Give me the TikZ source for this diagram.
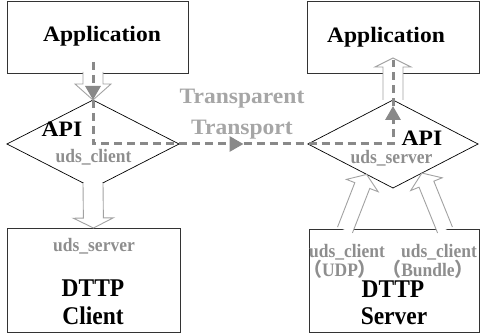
\documentclass[tikz,border=0pt]{standalone}
\usepackage{fontspec}
\setmainfont{Liberation Serif}
\newfontfamily\widefont{Liberation Serif}[FakeStretch=1.07]
\newfontfamily\narrowfont{Liberation Serif}[FakeStretch=0.92]
\newfontfamily\cjk{Noto Sans CJK SC}
\usepackage{tikz}
\usetikzlibrary{shapes.geometric,arrows.meta,calc}

\definecolor{flowgray}{HTML}{898989}
\definecolor{pipegray}{HTML}{A2A2A2}
\definecolor{notegray}{HTML}{8E8E8E}
\definecolor{overgray}{HTML}{A6A6A6}
\definecolor{edgegray}{HTML}{333333}

% hollow arrow: from, to, shaft half width, head half width, head length
\newcommand\hollow[5]{%
  \draw[pipe] let \p1=(#1), \p2=(#2), \n1={atan2(\y2-\y1,\x2-\x1)}, \n2={veclen(\x2-\x1,\y2-\y1)} in
    [shift={(\p1)}, rotate=\n1] (0,#3) -- ({\n2-#5},#3) -- ({\n2-#5},#4) -- (\n2,0)
    -- ({\n2-#5},-#4) -- ({\n2-#5},-#3) -- (0,-#3);
}
\newcommand\fwparen[1]{\smash{\cjk #1}}

\tikzset{
  box/.style={draw=edgegray, line width=0.9pt, outer sep=0pt},
  api/.style={diamond, draw, line width=0.7pt, outer sep=0pt, inner sep=0pt},
  pipe/.style={draw=pipegray, fill=white, line width=0.9pt, line join=miter},
  flow/.style={draw=flowgray, line width=3pt, dash pattern=on 8pt off 5pt},
  flowtip/.style={-{Triangle[length=14pt,width=15pt]}},
  apptext/.style={font=\widefont\fontsize{22}{25}\selectfont\bfseries, anchor=base, inner sep=0pt},
  boxtext/.style={font=\narrowfont\fontsize{25.5}{29}\selectfont\bfseries, anchor=base, inner sep=0pt},
  notetext/.style={font=\narrowfont\fontsize{19}{22}\selectfont\bfseries, text=notegray, anchor=base, inner sep=0pt},
  overtext/.style={font=\widefont\fontsize{22}{26}\selectfont\bfseries, text=overgray, anchor=base, inner sep=0pt}
}

\begin{document}
\begin{tikzpicture}[x=1pt,y=-1pt]
\useasboundingbox (0,0) rectangle (480,334);

\node[box, minimum width=181pt, minimum height=72pt] (appL) at (97.5,37) {};
\node[box, minimum width=172pt, minimum height=72pt] (appR) at (393,37) {};
\node[box, minimum width=173pt, minimum height=104pt] (dttpC) at (93.5,280) {};
\node[box, minimum width=170pt, minimum height=103pt] (dttpS) at (394,280.5) {};

\node[api, minimum width=172pt, minimum height=88pt] (apiL) at (93,144) {};
\node[api, minimum width=170pt, minimum height=88pt] (apiR) at (393,144) {};

\coordinate (srcL) at ($(apiL.north |- appL.south)+(0,-11)$);
\coordinate (inL) at ($(apiL.north |- appL.south)+(0,-1)$);
\coordinate (outL) at ($(apiL.south)+(0,-5)$);
\coordinate (topR) at ($(apiR.north |- appR.south)+(0,-15)$);
\coordinate (dstR) at ($(apiR.north |- appR.south)+(0,-13)$);
\coordinate (udpIn) at ($(dttpS.north)+(-49,1)$);
\coordinate (udpTip) at ($(apiR.west)!0.69!(apiR.south)$);
\coordinate (bunIn) at ($(dttpS.north)+(51,1)$);
\coordinate (bunTip) at ($(apiR.east)!0.66!(apiR.south)$);
\coordinate (midT) at ($(apiL.east)!0.5!(apiR.west)$);
\coordinate (upT) at ($(apiR.north)+(0,6)$);

\hollow{inL}{apiL.north}{10}{18}{16}
\hollow{outL}{dttpC.north}{10}{20}{10}
\hollow{apiR.north}{topR}{10}{18}{9}
\hollow{udpIn}{udpTip}{8}{17}{12}
\hollow{bunIn}{bunTip}{8}{17}{12}

\node[apptext] (appLt) at (102,42) {Application};
\node[apptext] (appRt) at (386,43) {Application};
\node[apptext] (apiLt) at (62,137) {API};
\node[notetext] (cliL) at (93.5,163) {uds\_client};
\node[apptext] (apiRt) at (422,146) {API};
\node[notetext] (srvR) at (391.5,164) {uds\_server};
\node[overtext] (overA) at (242,104) {Transparent};
\node[overtext] (overB) at (242,135) {Transport};

\node[notetext] (srvC) at (94,252) {uds\_server};
\node[boxtext] (dttpCt) at (93,297) {DTTP};
\node[boxtext] (cliCt) at (93,325) {Client};

\node[notetext] (udpC) at (347,258) {uds\_client};
\node[notetext] (udpP) at (340,277) {\fwparen{（}UDP\fwparen{）}};
\node[notetext] (bunC) at (439,258) {uds\_client};
\node[notetext] (bunP) at (428,277) {\fwparen{（}Bundle\fwparen{）}};
\node[boxtext] (dttpSt) at (393,298) {DTTP};
\node[boxtext] (srvSt) at (394,325) {Server};

\draw[flow,flowtip] (srcL) -- (apiL.north);
\draw[flow,flowtip] (apiL.north) -- (apiL.center) -- (midT);
\draw[flow,flowtip] (midT) -- (apiR.center) -- (upT);
\draw[flow] (upT) -- (dstR);
\end{tikzpicture}
\end{document}
